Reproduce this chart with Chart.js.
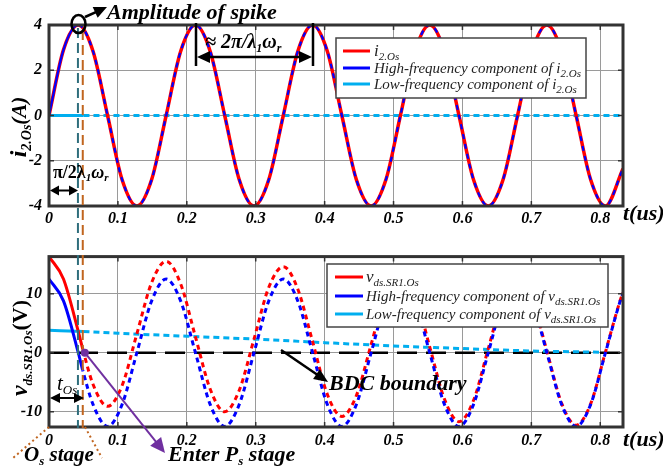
<!DOCTYPE html>
<html lang="en">
<head>
  <meta charset="UTF-8">
  <title>i2.Os / vds.SR1.Os</title>
  <style>
    body { margin: 0; background: #fff; }
    .figure { position: relative; width: 663px; height: 474px; }
    .panel { position: absolute; left: 0; width: 663px; }
    .panel canvas { display: block; }
  </style>
</head>
<body>
  <div class="figure">
    <div class="panel" style="top:0;height:240px"><canvas id="i2-chart" width="663" height="240"></canvas></div>
    <div class="panel" style="top:240px;height:234px"><canvas id="vds-chart" width="663" height="234"></canvas></div>
  </div>

  <script src="https://cdn.jsdelivr.net/npm/chart.js@4.4.1/dist/chart.umd.min.js"></script>
  <script>
    // time axis (us)
    const T_MAX = 0.833;
    const T_TICKS = [0, 0.1, 0.2, 0.3, 0.4, 0.5, 0.6, 0.7, 0.8];
    const SPIKE_T = 0.042;   // pi/2λ1ωr marker
    const OS_END_T = 0.049;  // end of Os stage

    // upper panel: i2.Os
    const I2_TICKS = [-4, -2, 0, 2, 4];
    const I2_T = [0, 0.021, 0.0425, 0.064, 0.085, 0.106, 0.1275, 0.149, 0.17, 0.191, 0.2125, 0.234, 0.255, 0.276,
      0.2975, 0.319, 0.34, 0.361, 0.3825, 0.404, 0.425, 0.446, 0.4675, 0.489, 0.51, 0.531, 0.5525, 0.574, 0.595,
      0.616, 0.6375, 0.659, 0.68, 0.701, 0.7225, 0.744, 0.765, 0.786, 0.8075, 0.833];
    const I2_VALUES = [0, 2.9, 4, 2.83, 0, -2.83, -4, -2.83, 0, 2.83, 4, 2.83, 0, -2.83, -4, -2.83, 0, 2.83, 4, 2.83,
      0, -2.83, -4, -2.83, 0, 2.83, 4, 2.83, 0, -2.83, -4, -2.83, 0, 2.83, 4, 2.83, 0, -2.83, -4, -2.35];
    const I2_HIGH = [0, 2.9, 4, 2.83, 0, -2.83, -4, -2.83, 0, 2.83, 4, 2.83, 0, -2.83, -4, -2.83, 0, 2.83, 4, 2.83,
      0, -2.83, -4, -2.83, 0, 2.83, 4, 2.83, 0, -2.83, -4, -2.83, 0, 2.83, 4, 2.83, 0, -2.83, -4, -2.35];
    const I2_LOW_T = [0, 0.05, 0.833];
    const I2_LOW = [0, 0, 0];

    // lower panel: vds.SR1.Os
    const VDS_TICKS = [-10, 0, 10];
    const VDS_T = [0, 0.021, 0.0425, 0.049, 0.064, 0.085, 0.106, 0.1275, 0.149, 0.17, 0.191, 0.2125, 0.234, 0.255,
      0.276, 0.2975, 0.319, 0.34, 0.361, 0.3825, 0.404, 0.425, 0.446, 0.4675, 0.489, 0.51, 0.531, 0.5525, 0.574,
      0.595, 0.616, 0.6375, 0.659, 0.68, 0.701, 0.7225, 0.744, 0.765, 0.786, 0.8075, 0.829, 0.833];
    const VDS_VALUES = [16.3, 12.5, 3.6, 0.6, -5.4, -9.1, -5.6, 3.2, 11.9, 15.5, 11.7, 2.7, -6.2, -10, -6.4, 2.3,
      11.1, 14.6, 10.8, 1.9, -7.1, -10.8, -7.3, 1.4, 10.2, 13.7, 10, 1, -7.9, -11.7, -8.1, 0.7, 9.4, 13, 9.2, 0.3,
      -8.6, -12.3, -8.7, 0.1, 8.9, 10.2];
    const VDS_HIGH = [12.5, 8.8, 0, -3, -8.8, -12.5, -8.8, 0, 8.8, 12.5, 8.8, 0, -8.8, -12.5, -8.8, 0, 8.8, 12.5,
      8.8, 0, -8.8, -12.5, -8.8, 0, 8.8, 12.5, 8.8, 0, -8.8, -12.5, -8.8, 0, 8.8, 12.5, 8.8, 0, -8.8, -12.5, -8.8,
      0, 8.8, 10.1];
    const VDS_LOW_T = [0, 0.05, 0.1, 0.2, 0.3, 0.4, 0.5, 0.6, 0.7, 0.8];
    const VDS_LOW = [3.8, 3.6, 3.3, 2.8, 2.3, 1.7, 1.15, 0.7, 0.3, 0.08];
    const BDC_T = [0, 0.833];
    const BDC = [0, 0];

    const RED = '#FF0000';
    const BLUE = '#0000FF';
    const CYAN = '#00AEEF';
    const TEAL = '#2F6E7C';
    const BROWN = '#C0651F';
    const PURPLE = '#7030A0';
    const SERIF = "'Liberation Serif', 'Times New Roman', serif";
    const f = (style, size) => `${style} ${size}px ${SERIF}`;

    Chart.defaults.font.family = SERIF;
    Chart.defaults.color = '#000';

    const pts = (xs, ys) => xs.map((x, i) => ({ x, y: ys[i] }));
    const dashedAfter = (t, dash) => ctx => ctx.p0.parsed.x >= t ? dash : undefined;

    function richText(ctx, x, y, parts, align) {
      let w = 0;
      parts.forEach(p => { ctx.font = p[1]; w += ctx.measureText(p[0]).width; });
      let cx = align === 'center' ? x - w / 2 : x;
      ctx.textAlign = 'left';
      ctx.textBaseline = 'alphabetic';
      parts.forEach(p => {
        ctx.font = p[1];
        ctx.fillText(p[0], cx, y + (p[2] || 0));
        cx += ctx.measureText(p[0]).width;
      });
    }

    function head(ctx, x1, y1, x2, y2, len, half) {
      const a = Math.atan2(y2 - y1, x2 - x1);
      const c = Math.cos(a), s = Math.sin(a);
      ctx.beginPath();
      ctx.moveTo(x2, y2);
      ctx.lineTo(x2 - len * c + half * s, y2 - len * s - half * c);
      ctx.lineTo(x2 - len * c - half * s, y2 - len * s + half * c);
      ctx.closePath();
      ctx.fill();
    }

    function arrow(ctx, x1, y1, x2, y2, opt) {
      const o = Object.assign({ color: '#000', width: 2.5, len: 11, half: 5, both: false }, opt);
      const a = Math.atan2(y2 - y1, x2 - x1);
      const c = Math.cos(a), s = Math.sin(a);
      ctx.save();
      ctx.strokeStyle = o.color;
      ctx.fillStyle = o.color;
      ctx.lineWidth = o.width;
      ctx.setLineDash([]);
      ctx.beginPath();
      ctx.moveTo(o.both ? x1 + o.len * 0.7 * c : x1, o.both ? y1 + o.len * 0.7 * s : y1);
      ctx.lineTo(x2 - o.len * 0.7 * c, y2 - o.len * 0.7 * s);
      ctx.stroke();
      head(ctx, x1, y1, x2, y2, o.len, o.half);
      if (o.both) head(ctx, x2, y2, x1, y1, o.len, o.half);
      ctx.restore();
    }

    function vline(ctx, x, y1, y2, color) {
      ctx.save();
      ctx.strokeStyle = color;
      ctx.lineWidth = 2;
      ctx.setLineDash([10, 5]);
      ctx.beginPath();
      ctx.moveTo(x, y1);
      ctx.lineTo(x, y2);
      ctx.stroke();
      ctx.restore();
    }

    function legendBox(ctx, box, rows) {
      ctx.save();
      ctx.fillStyle = '#fff';
      ctx.fillRect(box.x, box.y, box.w, box.h);
      ctx.strokeStyle = '#444';
      ctx.lineWidth = 1.5;
      ctx.strokeRect(box.x, box.y, box.w, box.h);
      rows.forEach(r => {
        ctx.strokeStyle = r.color;
        ctx.lineWidth = 3;
        ctx.beginPath();
        ctx.moveTo(box.lx1, r.y);
        ctx.lineTo(box.lx2, r.y);
        ctx.stroke();
        ctx.fillStyle = '#222';
        richText(ctx, box.tx, r.y + 5, r.parts);
      });
      ctx.restore();
    }

    // frame and inward tick marks, like the original box axes
    const framePlugin = {
      id: 'frame',
      afterDatasetsDraw(chart) {
        const { ctx, chartArea: a, scales } = chart;
        ctx.save();
        ctx.strokeStyle = '#333';
        ctx.lineWidth = 1.5;
        ctx.beginPath();
        scales.x.ticks.forEach(t => {
          const x = scales.x.getPixelForValue(t.value);
          ctx.moveTo(x, a.top); ctx.lineTo(x, a.top + 5);
          ctx.moveTo(x, a.bottom); ctx.lineTo(x, a.bottom - 5);
        });
        scales.y.ticks.forEach(t => {
          const y = scales.y.getPixelForValue(t.value);
          ctx.moveTo(a.left, y); ctx.lineTo(a.left + 5, y);
          ctx.moveTo(a.right, y); ctx.lineTo(a.right - 5, y);
        });
        ctx.stroke();
        ctx.lineWidth = 3;
        ctx.strokeRect(a.left, a.top, a.right - a.left, a.bottom - a.top);
        ctx.fillStyle = '#000';
        ctx.font = f('bold italic', 22);
        ctx.textAlign = 'left';
        ctx.textBaseline = 'middle';
        ctx.fillText('t(us)', a.right, chart.options.tLabelY);
        ctx.restore();
      }
    };

    function makeOptions(yMin, yMax, yTicks, padTop, xHeight, tickPad, tLabelY) {
      const tickFont = { family: SERIF, size: 16, style: 'italic', weight: 'bold' };
      return {
        responsive: false,
        animation: false,
        devicePixelRatio: 1,
        tLabelY,
        layout: { padding: { top: padTop, right: 40, left: 0, bottom: 0 } },
        plugins: { legend: { display: false }, tooltip: { enabled: false } },
        elements: { point: { radius: 0 }, line: { cubicInterpolationMode: 'monotone' } },
        scales: {
          x: {
            type: 'linear', min: 0, max: T_MAX,
            afterBuildTicks: s => { s.ticks = T_TICKS.map(v => ({ value: v })); },
            afterFit: s => { s.height = xHeight; },
            grid: { color: '#9a9a9a', lineWidth: 1, drawTicks: false },
            border: { display: false },
            ticks: {
              font: tickFont, padding: tickPad, maxRotation: 0, autoSkip: false,
              callback: v => v === 0 ? '0' : v.toFixed(1)
            }
          },
          y: {
            min: yMin, max: yMax,
            afterBuildTicks: s => { s.ticks = yTicks.map(v => ({ value: v })); },
            afterFit: s => { s.width = 49; },
            grid: { color: '#9a9a9a', lineWidth: 1, drawTicks: false },
            border: { display: false },
            ticks: { font: tickFont, padding: 7, callback: v => String(v) }
          }
        }
      };
    }

    const i2Notes = {
      id: 'i2Notes',
      afterDraw(chart) {
        const { ctx, scales } = chart;
        const xs = scales.x;
        vline(ctx, xs.getPixelForValue(SPIKE_T), 28, 240, TEAL);
        vline(ctx, xs.getPixelForValue(OS_END_T), 30, 240, BROWN);

        ctx.save();
        ctx.fillStyle = '#000';
        ctx.strokeStyle = '#000';
        // spike amplitude
        ctx.lineWidth = 2.5;
        ctx.beginPath();
        ctx.ellipse(78.5, 24, 7, 9, 0, 0, Math.PI * 2);
        ctx.stroke();
        arrow(ctx, 85, 17, 107, 7, { len: 13, half: 6 });
        richText(ctx, 107, 19, [['Amplitude of spike', f('bold italic', 22)]]);

        // period
        ctx.lineWidth = 2.5;
        ctx.beginPath();
        ctx.moveTo(196, 23); ctx.lineTo(196, 66);
        ctx.moveTo(313, 23); ctx.lineTo(313, 66);
        ctx.stroke();
        arrow(ctx, 197, 57, 312, 57, { both: true, len: 13, half: 6 });
        richText(ctx, 205, 48, [['\u2248 2\u03C0/\u03BB', f('bold italic', 20)], ['1', f('bold italic', 12), 4],
          ['\u03C9', f('bold italic', 20)], ['r', f('bold italic', 12), 4]]);

        // quarter period
        richText(ctx, 53, 178, [['\u03C0/2\u03BB', f('bold', 18)], ['1', f('bold italic', 11), 3],
          ['\u03C9', f('bold italic', 18)], ['r', f('bold italic', 11), 3]]);
        arrow(ctx, 50, 190.5, 78, 190.5, { both: true, width: 2, len: 9, half: 5 });

        // axis title
        ctx.translate(26, 127);
        ctx.rotate(-Math.PI / 2);
        richText(ctx, 0, 0, [['i', f('bold italic', 24)], ['2.Os', f('bold italic', 14), 5], ['(A)', f('bold italic', 21)]], 'center');
        ctx.restore();

        legendBox(ctx, { x: 336, y: 38, w: 250, h: 60, lx1: 343, lx2: 370, tx: 374 }, [
          { color: RED, y: 51, parts: [['i', f('italic', 17)], ['2.Os', f('italic', 11), 4]] },
          { color: BLUE, y: 68, parts: [['High-frequency component of i', f('italic', 15)], ['2.Os', f('italic', 11), 4]] },
          { color: CYAN, y: 84, parts: [['Low-frequency component of i', f('italic', 15)], ['2.Os', f('italic', 11), 4]] }
        ]);
      }
    };

    const vdsNotes = {
      id: 'vdsNotes',
      afterDraw(chart) {
        const { ctx, scales } = chart;
        const xs = scales.x;
        vline(ctx, xs.getPixelForValue(SPIKE_T), 0, 188, TEAL);
        vline(ctx, xs.getPixelForValue(OS_END_T), 0, 188, BROWN);

        ctx.save();
        // Os stage brackets
        ctx.strokeStyle = BROWN;
        ctx.lineWidth = 2;
        ctx.setLineDash([2, 3]);
        ctx.beginPath();
        ctx.moveTo(49, 187); ctx.lineTo(13, 218);
        ctx.moveTo(85, 187); ctx.lineTo(102, 218);
        ctx.stroke();
        ctx.setLineDash([]);

        ctx.fillStyle = '#000';
        richText(ctx, 24, 221, [['O', f('bold italic', 21)], ['s', f('bold italic', 13), 4], [' stage', f('bold italic', 21)]]);
        richText(ctx, 168, 221, [['Enter P', f('bold italic', 22)], ['s', f('bold italic', 13), 4], [' stage', f('bold italic', 22)]]);

        // entering Ps
        const x0 = xs.getPixelForValue(0.052), y0 = scales.y.getPixelForValue(0);
        arrow(ctx, x0, y0, 165, 213, { color: PURPLE, width: 2, len: 15, half: 7 });
        ctx.fillStyle = PURPLE;
        ctx.beginPath();
        ctx.arc(x0, y0, 4, 0, Math.PI * 2);
        ctx.fill();

        // BDC boundary
        arrow(ctx, 281, 110, 328, 142, { len: 14, half: 6 });
        ctx.fillStyle = '#000';
        richText(ctx, 329, 150, [['BDC boundary', f('bold italic', 22)]]);

        // tOs
        richText(ctx, 57, 150, [['t', f('italic', 21)], ['Os', f('italic', 13), 4]]);
        arrow(ctx, 50, 158, 84, 158, { both: true, width: 2, len: 10, half: 5 });

        // axis title
        ctx.translate(27, 108);
        ctx.rotate(-Math.PI / 2);
        richText(ctx, 0, 0, [['v', f('bold italic', 24)], ['ds.SR1.Os', f('bold italic', 13), 5], ['(V)', f('bold', 22)]], 'center');
        ctx.restore();

        legendBox(ctx, { x: 327, y: 24, w: 281, h: 63, lx1: 335, lx2: 363, tx: 366 }, [
          { color: RED, y: 37, parts: [['v', f('italic', 17)], ['ds.SR1.Os', f('italic', 11), 4]] },
          { color: BLUE, y: 56, parts: [['High-frequency component of v', f('italic', 15)], ['ds.SR1.Os', f('italic', 11), 4]] },
          { color: CYAN, y: 74, parts: [['Low-frequency component of v', f('italic', 15)], ['ds.SR1.Os', f('italic', 11), 4]] }
        ]);
      }
    };

    new Chart(document.getElementById('i2-chart'), {
      type: 'line',
      data: {
        datasets: [
          { label: 'i2.Os', data: pts(I2_T, I2_VALUES), borderColor: RED, borderWidth: 3.5, order: 2 },
          { label: 'High-frequency component of i2.Os', data: pts(I2_T, I2_HIGH), borderColor: BLUE, borderWidth: 2.2,
            segment: { borderDash: dashedAfter(SPIKE_T, [5, 5]) }, order: 1 },
          { label: 'Low-frequency component of i2.Os', data: pts(I2_LOW_T, I2_LOW), borderColor: CYAN, borderWidth: 3,
            cubicInterpolationMode: 'default', segment: { borderDash: dashedAfter(0.05, [6, 4]) }, order: 3 }
        ]
      },
      options: makeOptions(-4, 4, I2_TICKS, 25, 34, 3, 214),
      plugins: [framePlugin, i2Notes]
    });

    new Chart(document.getElementById('vds-chart'), {
      type: 'line',
      data: {
        datasets: [
          { label: 'vds.SR1.Os', data: pts(VDS_T, VDS_VALUES), borderColor: RED, borderWidth: 3,
            segment: { borderDash: dashedAfter(OS_END_T, [5, 4]) }, order: 2 },
          { label: 'High-frequency component of vds.SR1.Os', data: pts(VDS_T, VDS_HIGH), borderColor: BLUE, borderWidth: 3,
            borderDashOffset: 4, segment: { borderDash: dashedAfter(OS_END_T, [5, 4]) }, order: 1 },
          { label: 'Low-frequency component of vds.SR1.Os', data: pts(VDS_LOW_T, VDS_LOW), borderColor: CYAN, borderWidth: 3,
            segment: { borderDash: dashedAfter(0.05, [6, 4]) }, order: 3 },
          { label: 'BDC boundary', data: pts(BDC_T, BDC), borderColor: '#000', borderWidth: 2.5,
            cubicInterpolationMode: 'default', borderDash: [20, 9], order: 4 }
        ]
      },
      options: makeOptions(-12.6, 16.3, VDS_TICKS, 8, 47, 4, 200),
      plugins: [framePlugin, vdsNotes]
    });
  </script>
</body>
</html>
